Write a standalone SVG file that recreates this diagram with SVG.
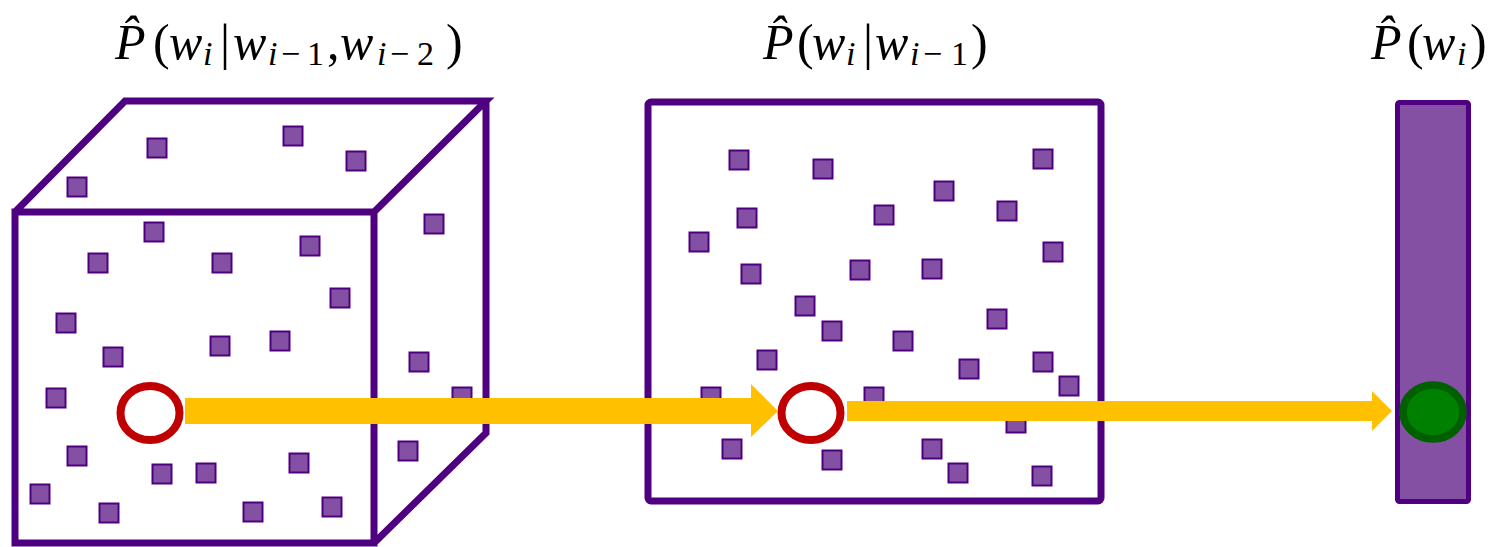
<svg xmlns="http://www.w3.org/2000/svg" width="1492" height="547" viewBox="0 0 1492 547">
<style>
.edge{fill:none;stroke:#4E0080;stroke-width:7;stroke-linejoin:miter}
.sq{fill:#8350A3;stroke:#4E0080;stroke-width:2}
.ring{fill:none;stroke:#C00000;stroke-width:8}
.arrow{fill:#FFC000;stroke:none}
.m{font-family:"Liberation Serif","DejaVu Serif",serif;font-style:italic;font-size:50px;fill:#000}
.r{font-style:normal}
.s{font-size:34px}
</style>
<g id="label-trigram">
<text class="m"><tspan x="115" y="59">P&#x302;</tspan><tspan class="r" x="153" y="59">(</tspan><tspan x="169" y="59">w</tspan><tspan class="s" x="203" y="65">i</tspan><tspan class="r" x="220" y="59">|</tspan><tspan x="233" y="59">w</tspan><tspan class="s" x="268" y="65">i</tspan><tspan class="s r" x="281" y="65">−</tspan><tspan class="s r" x="307" y="65">1</tspan><tspan class="r" x="327" y="59">,</tspan><tspan x="340" y="59">w</tspan><tspan class="s" x="377" y="65">i</tspan><tspan class="s r" x="390" y="65">−</tspan><tspan class="s r" x="417" y="65">2</tspan><tspan class="r" x="446" y="59">)</tspan></text>
</g>
<g id="label-bigram">
<text class="m"><tspan x="763" y="59">P&#x302;</tspan><tspan class="r" x="797" y="59">(</tspan><tspan x="812" y="59">w</tspan><tspan class="s" x="846" y="65">i</tspan><tspan class="r" x="863" y="59">|</tspan><tspan x="875" y="59">w</tspan><tspan class="s" x="910" y="65">i</tspan><tspan class="s r" x="923" y="65">−</tspan><tspan class="s r" x="951" y="65">1</tspan><tspan class="r" x="971" y="59">)</tspan></text>
</g>
<g id="label-unigram">
<text class="m"><tspan x="1371" y="59">P&#x302;</tspan><tspan class="r" x="1407" y="59">(</tspan><tspan x="1422" y="59">w</tspan><tspan class="s" x="1457" y="65">i</tspan><tspan class="r" x="1470" y="59">)</tspan></text>
</g>
<g id="cube">
<path class="edge" d="M15,212 H374 V543 H15 Z M15,212 L125,101 H486 L374,212 M486,101 V433 L374,543"/>
<g>
<rect class="sq" x="147.5" y="138.5" width="19" height="19"/>
<rect class="sq" x="283.5" y="126.5" width="19" height="19"/>
<rect class="sq" x="346.5" y="151.5" width="19" height="19"/>
<rect class="sq" x="67.5" y="177.5" width="19" height="19"/>
<rect class="sq" x="144.5" y="222.5" width="19" height="19"/>
<rect class="sq" x="88.5" y="253.5" width="19" height="19"/>
<rect class="sq" x="212.5" y="253.5" width="19" height="19"/>
<rect class="sq" x="300.5" y="236.5" width="19" height="19"/>
<rect class="sq" x="330.5" y="288.5" width="19" height="19"/>
<rect class="sq" x="424.5" y="214.5" width="19" height="19"/>
<rect class="sq" x="56.5" y="313.5" width="19" height="19"/>
<rect class="sq" x="103.5" y="347.5" width="19" height="19"/>
<rect class="sq" x="210.5" y="336.5" width="19" height="19"/>
<rect class="sq" x="270.5" y="331.5" width="19" height="19"/>
<rect class="sq" x="46.5" y="388.5" width="19" height="19"/>
<rect class="sq" x="409.5" y="352.5" width="19" height="19"/>
<rect class="sq" x="452.5" y="387.5" width="19" height="19"/>
<rect class="sq" x="67.5" y="446.5" width="19" height="19"/>
<rect class="sq" x="152.5" y="464.5" width="19" height="19"/>
<rect class="sq" x="196.5" y="463.5" width="19" height="19"/>
<rect class="sq" x="289.5" y="453.5" width="19" height="19"/>
<rect class="sq" x="398.5" y="441.5" width="19" height="19"/>
<rect class="sq" x="30.5" y="484.5" width="19" height="19"/>
<rect class="sq" x="99.5" y="503.5" width="19" height="19"/>
<rect class="sq" x="243.5" y="502.5" width="19" height="19"/>
<rect class="sq" x="322.5" y="497.5" width="19" height="19"/>
</g>
<ellipse class="ring" cx="150" cy="413" rx="29.5" ry="27"/>
</g>
<g id="square">
<rect class="edge" x="648" y="102" width="453" height="399" rx="3"/>
<g>
<rect class="sq" x="729.5" y="150.5" width="19" height="19"/>
<rect class="sq" x="813.5" y="159.5" width="19" height="19"/>
<rect class="sq" x="1033.5" y="149.5" width="19" height="19"/>
<rect class="sq" x="934.5" y="181.5" width="19" height="19"/>
<rect class="sq" x="737.5" y="208.5" width="19" height="19"/>
<rect class="sq" x="874.5" y="205.5" width="19" height="19"/>
<rect class="sq" x="997.5" y="201.5" width="19" height="19"/>
<rect class="sq" x="689.5" y="232.5" width="19" height="19"/>
<rect class="sq" x="1043.5" y="242.5" width="19" height="19"/>
<rect class="sq" x="741.5" y="264.5" width="19" height="19"/>
<rect class="sq" x="850.5" y="260.5" width="19" height="19"/>
<rect class="sq" x="922.5" y="259.5" width="19" height="19"/>
<rect class="sq" x="795.5" y="296.5" width="19" height="19"/>
<rect class="sq" x="822.5" y="321.5" width="19" height="19"/>
<rect class="sq" x="893.5" y="331.5" width="19" height="19"/>
<rect class="sq" x="987.5" y="309.5" width="19" height="19"/>
<rect class="sq" x="757.5" y="350.5" width="19" height="19"/>
<rect class="sq" x="959.5" y="359.5" width="19" height="19"/>
<rect class="sq" x="1033.5" y="352.5" width="19" height="19"/>
<rect class="sq" x="1059.5" y="376.5" width="19" height="19"/>
<rect class="sq" x="701.5" y="387.5" width="19" height="19"/>
<rect class="sq" x="864.5" y="387.5" width="19" height="19"/>
<rect class="sq" x="1006.5" y="413.5" width="19" height="19"/>
<rect class="sq" x="722.5" y="439.5" width="19" height="19"/>
<rect class="sq" x="822.5" y="450.5" width="19" height="19"/>
<rect class="sq" x="922.5" y="439.5" width="19" height="19"/>
<rect class="sq" x="948.5" y="463.5" width="19" height="19"/>
<rect class="sq" x="1032.5" y="466.5" width="19" height="19"/>
</g>
<ellipse class="ring" cx="811" cy="413" rx="29.5" ry="27"/>
</g>
<g id="bar">
<rect x="1397.5" y="102.5" width="71" height="399" rx="2" fill="#8350A3" stroke="#4E0080" stroke-width="5"/>
<ellipse cx="1433" cy="412" rx="30" ry="27" fill="#008000" stroke="#006000" stroke-width="7.5"/>
</g>
<g id="connectors">
<polygon class="arrow" points="185,398 751,398 751,384 778,411 751,437 751,424 185,424"/>
<polygon class="arrow" points="847,401 1372,401 1372,391 1392,411 1372,431 1372,421 847,421"/>
</g>
</svg>
